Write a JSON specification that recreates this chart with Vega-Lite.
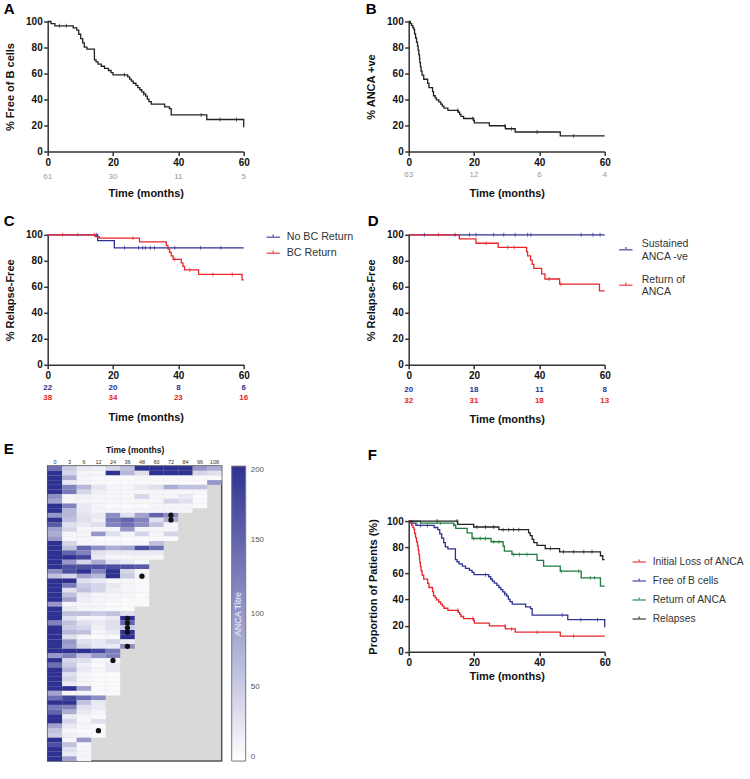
{
"$schema": "https://vega.github.io/schema/vega-lite/v6.json",
"padding": {"left": 2.7, "top": 1.5, "right": 5, "bottom": 5},
"bounds": "flush",
"columns": 2,
"spacing": {"row": 83.3, "column": 165},
"config": {
  "font": "Liberation Sans",
  "view": {"stroke": null},
  "axis": {"domainColor": "#333", "domainWidth": 1.5, "tickColor": "#333", "tickWidth": 1.5, "tickSize": 4, "labelFont": "Liberation Sans", "labelFontSize": 10, "labelFontWeight": "bold", "labelColor": "#111", "labelPadding": 1.5, "labelOverlap": false, "labelFlush": false, "labelBound": false, "titleFont": "Liberation Sans", "titleFontSize": 11, "titleFontWeight": "bold", "titleColor": "#111", "grid": false},
  "legend": {"labelFont": "Liberation Sans", "labelColor": "#333", "padding": 0},
  "title": {"font": "Liberation Sans", "fontSize": 15, "fontWeight": "bold", "color": "#000", "anchor": "start", "frame": "group", "baseline": "alphabetic"}
},
"datasets": {
  "bc": [{"t":0,"s":100},{"t":1,"s":98.4},{"t":2.2,"s":96.7},{"t":7.8,"s":95.1},{"t":8.9,"s":93.4},{"t":9.5,"s":90.2},{"t":10.1,"s":86.9},{"t":10.7,"s":83.6},{"t":11.2,"s":80.3},{"t":12,"s":78.7},{"t":14.3,"s":70.5},{"t":14.8,"s":68.9},{"t":15.4,"s":67.2},{"t":16.4,"s":65.6},{"t":17.4,"s":63.9},{"t":18.6,"s":62.3},{"t":19.4,"s":60.7},{"t":20,"s":59},{"t":24.5,"s":57.4},{"t":25.1,"s":55.7},{"t":25.6,"s":54.1},{"t":26.2,"s":52.5},{"t":27,"s":50.8},{"t":27.6,"s":49.2},{"t":28.2,"s":47.5},{"t":28.8,"s":45.9},{"t":29.4,"s":44.3},{"t":30,"s":42.6},{"t":30.5,"s":40.3},{"t":31,"s":38.4},{"t":31.7,"s":36.5},{"t":35.8,"s":34.4},{"t":37.3,"s":33},{"t":37.8,"s":28.1},{"t":48.7,"s":24.6},{"t":60,"s":18.7}],
  "bcC": [{"t":3.6,"s":96.7},{"t":5.7,"s":96.7},{"t":23.5,"s":59},{"t":29.4,"s":44.3},{"t":47,"s":28.1},{"t":52.7,"s":24.6},{"t":57.8,"s":24.6}],
  "an": [{"t":0,"s":100},{"t":0.5,"s":98.4},{"t":0.9,"s":96.8},{"t":1.3,"s":95.2},{"t":1.6,"s":93.7},{"t":1.8,"s":90.5},{"t":2.1,"s":87.3},{"t":2.4,"s":84.1},{"t":2.7,"s":81},{"t":2.9,"s":77.8},{"t":3.1,"s":74.6},{"t":3.3,"s":71.4},{"t":3.4,"s":68.3},{"t":3.6,"s":65.1},{"t":3.8,"s":61.9},{"t":4.1,"s":58.7},{"t":4.6,"s":55.6},{"t":5.8,"s":52.4},{"t":6.2,"s":49.2},{"t":7.3,"s":46},{"t":7.6,"s":42.9},{"t":8.1,"s":41.3},{"t":8.5,"s":39.7},{"t":9.2,"s":38.1},{"t":9.8,"s":36.5},{"t":10.3,"s":34.9},{"t":10.8,"s":33.3},{"t":12,"s":31.7},{"t":15.2,"s":30.2},{"t":15.6,"s":28.6},{"t":16,"s":27},{"t":16.8,"s":25.4},{"t":19.9,"s":23.8},{"t":20.1,"s":22},{"t":24.7,"s":19.8},{"t":29.6,"s":17.5},{"t":32.6,"s":15},{"t":46.4,"s":12},{"t":60,"s":12}],
  "anC": [{"t":15,"s":31.7},{"t":19.6,"s":25.4},{"t":29.5,"s":19.8},{"t":31.5,"s":17.5},{"t":39.3,"s":15},{"t":50.5,"s":12}],
  "c": [{"g":"No BC Return","t":0,"s":100},{"g":"No BC Return","t":15.3,"s":95.5},{"g":"No BC Return","t":20.4,"s":90},{"g":"No BC Return","t":60,"s":90},
        {"g":"BC Return","t":0,"s":100},{"g":"BC Return","t":14.6,"s":98.6},{"g":"BC Return","t":15.8,"s":97.4},{"g":"BC Return","t":28.1,"s":94.6},{"g":"BC Return","t":36.3,"s":91.9},{"g":"BC Return","t":36.8,"s":89.2},{"g":"BC Return","t":37.3,"s":86.5},{"g":"BC Return","t":37.8,"s":83.8},{"g":"BC Return","t":38.4,"s":81.1},{"g":"BC Return","t":40.9,"s":78.4},{"g":"BC Return","t":41.4,"s":75.7},{"g":"BC Return","t":41.9,"s":73},{"g":"BC Return","t":46.2,"s":69.5},{"g":"BC Return","t":59.5,"s":65.3},{"g":"BC Return","t":60,"s":65.3}],
  "cC": [{"g":"No BC Return","t":15,"s":100},{"g":"No BC Return","t":23.5,"s":90},{"g":"No BC Return","t":27.8,"s":90},{"g":"No BC Return","t":29.1,"s":90},{"g":"No BC Return","t":29.9,"s":90},{"g":"No BC Return","t":31.4,"s":90},{"g":"No BC Return","t":32.7,"s":90},{"g":"No BC Return","t":38.9,"s":90},{"g":"No BC Return","t":46.8,"s":90},{"g":"No BC Return","t":53,"s":90},
         {"g":"BC Return","t":4.6,"s":100},{"g":"BC Return","t":9.2,"s":100},{"g":"BC Return","t":14.3,"s":100},{"g":"BC Return","t":26.1,"s":97.4},{"g":"BC Return","t":38.9,"s":81.1},{"g":"BC Return","t":43.5,"s":73},{"g":"BC Return","t":50.6,"s":69.5},{"g":"BC Return","t":56.5,"s":69.5}],
  "d": [{"g":"Sustained ANCA -ve","t":0,"s":100},{"g":"Sustained ANCA -ve","t":60,"s":100},
        {"g":"Return of ANCA","t":0,"s":100},{"g":"Return of ANCA","t":15.5,"s":96.8},{"g":"Return of ANCA","t":20.6,"s":93.5},{"g":"Return of ANCA","t":27.4,"s":90.3},{"g":"Return of ANCA","t":36.1,"s":87},{"g":"Return of ANCA","t":36.4,"s":83.8},{"g":"Return of ANCA","t":37.3,"s":80.5},{"g":"Return of ANCA","t":37.8,"s":77.3},{"g":"Return of ANCA","t":38.3,"s":74.2},{"g":"Return of ANCA","t":40.7,"s":70},{"g":"Return of ANCA","t":41.7,"s":66},{"g":"Return of ANCA","t":46.2,"s":62},{"g":"Return of ANCA","t":58.4,"s":56.9},{"g":"Return of ANCA","t":60,"s":56.9}],
  "dC": [{"g":"Sustained ANCA -ve","t":4.8,"s":100},{"g":"Sustained ANCA -ve","t":14.2,"s":100},{"g":"Sustained ANCA -ve","t":18.6,"s":100},{"g":"Sustained ANCA -ve","t":20.6,"s":100},{"g":"Sustained ANCA -ve","t":26,"s":100},{"g":"Sustained ANCA -ve","t":29.1,"s":100},{"g":"Sustained ANCA -ve","t":32.6,"s":100},{"g":"Sustained ANCA -ve","t":36.4,"s":100},{"g":"Sustained ANCA -ve","t":37.4,"s":100},{"g":"Sustained ANCA -ve","t":52.8,"s":100},{"g":"Sustained ANCA -ve","t":56.4,"s":100},{"g":"Sustained ANCA -ve","t":58.6,"s":100},
         {"g":"Return of ANCA","t":9.1,"s":100},{"g":"Return of ANCA","t":23.7,"s":93.5},{"g":"Return of ANCA","t":30.3,"s":90.3},{"g":"Return of ANCA","t":32.3,"s":90.3},{"g":"Return of ANCA","t":43,"s":66},{"g":"Return of ANCA","t":46.6,"s":62}],
  "f": [{"g":"Return of ANCA","t":0,"s":100},{"g":"Return of ANCA","t":3.6,"s":98.5},{"g":"Return of ANCA","t":13.8,"s":97},{"g":"Return of ANCA","t":14.4,"s":94.4},{"g":"Return of ANCA","t":17.9,"s":91},{"g":"Return of ANCA","t":19.4,"s":86.7},{"g":"Return of ANCA","t":25.2,"s":84.2},{"g":"Return of ANCA","t":28.9,"s":80.9},{"g":"Return of ANCA","t":29.3,"s":77},{"g":"Return of ANCA","t":31.6,"s":74.5},{"g":"Return of ANCA","t":39.3,"s":69.9},{"g":"Return of ANCA","t":41.3,"s":65.6},{"g":"Return of ANCA","t":46.4,"s":61.7},{"g":"Return of ANCA","t":52.8,"s":56.6},{"g":"Return of ANCA","t":58.7,"s":50.3},{"g":"Return of ANCA","t":60,"s":50.3},
        {"g":"Relapses","t":0,"s":100},{"g":"Relapses","t":15,"s":97.5},{"g":"Relapses","t":19.9,"s":95.5},{"g":"Relapses","t":27.6,"s":93.4},{"g":"Relapses","t":36.7,"s":91},{"g":"Relapses","t":37.2,"s":88.9},{"g":"Relapses","t":37.8,"s":86},{"g":"Relapses","t":38.3,"s":83.5},{"g":"Relapses","t":39.3,"s":81.5},{"g":"Relapses","t":41.8,"s":79},{"g":"Relapses","t":46.2,"s":76.5},{"g":"Relapses","t":58.7,"s":73.5},{"g":"Relapses","t":59.4,"s":70.5},{"g":"Relapses","t":60,"s":70.5}],
  "fC": [{"g":"Return of ANCA","t":2.6,"s":98.5},{"g":"Return of ANCA","t":9.7,"s":98.5},{"g":"Return of ANCA","t":13.8,"s":97},{"g":"Return of ANCA","t":19.9,"s":86.7},{"g":"Return of ANCA","t":21.9,"s":86.7},{"g":"Return of ANCA","t":23.5,"s":86.7},{"g":"Return of ANCA","t":26,"s":84.2},{"g":"Return of ANCA","t":27.6,"s":84.2},{"g":"Return of ANCA","t":32.1,"s":74.5},{"g":"Return of ANCA","t":33.9,"s":74.5},{"g":"Return of ANCA","t":36.2,"s":74.5},{"g":"Return of ANCA","t":46.7,"s":61.7},{"g":"Return of ANCA","t":52,"s":61.7},{"g":"Return of ANCA","t":55.6,"s":56.6},{"g":"Return of ANCA","t":56.9,"s":56.6},
         {"g":"Relapses","t":8.7,"s":100},{"g":"Relapses","t":14.8,"s":100},{"g":"Relapses","t":20.9,"s":95.5},{"g":"Relapses","t":23.5,"s":95.5},{"g":"Relapses","t":26,"s":95.5},{"g":"Relapses","t":28.9,"s":93.4},{"g":"Relapses","t":30.6,"s":93.4},{"g":"Relapses","t":32.1,"s":93.4},{"g":"Relapses","t":33.7,"s":93.4},{"g":"Relapses","t":43.4,"s":79},{"g":"Relapses","t":47.4,"s":76.5},{"g":"Relapses","t":50.5,"s":76.5},{"g":"Relapses","t":53.6,"s":76.5},{"g":"Relapses","t":56.1,"s":76.5}],
  "risk": [{"p":"A","g":"all","t":0,"n":61},{"p":"A","g":"all","t":20,"n":30},{"p":"A","g":"all","t":40,"n":11},{"p":"A","g":"all","t":60,"n":5},
           {"p":"B","g":"all","t":0,"n":63},{"p":"B","g":"all","t":20,"n":12},{"p":"B","g":"all","t":40,"n":6},{"p":"B","g":"all","t":60,"n":4},
           {"p":"C","g":"blue","t":0,"n":22},{"p":"C","g":"blue","t":20,"n":20},{"p":"C","g":"blue","t":40,"n":8},{"p":"C","g":"blue","t":60,"n":6},
           {"p":"C","g":"red","t":0,"n":38},{"p":"C","g":"red","t":20,"n":34},{"p":"C","g":"red","t":40,"n":23},{"p":"C","g":"red","t":60,"n":16},
           {"p":"D","g":"blue","t":0,"n":20},{"p":"D","g":"blue","t":20,"n":18},{"p":"D","g":"blue","t":40,"n":11},{"p":"D","g":"blue","t":60,"n":8},
           {"p":"D","g":"red","t":0,"n":32},{"p":"D","g":"red","t":20,"n":31},{"p":"D","g":"red","t":40,"n":18},{"p":"D","g":"red","t":60,"n":13}],
  "rel": [{"r":10,"c":72},{"r":11,"c":72},{"r":23,"c":48},{"r":32,"c":36},{"r":33,"c":36},{"r":34,"c":36},{"r":35,"c":36},{"r":38,"c":36},{"r":41,"c":24},{"r":56,"c":12}],
  "hm": [
{"r":0,"c":0,"v":140},{"r":0,"c":3,"v":50},{"r":0,"c":6,"v":20},{"r":0,"c":12,"v":15},{"r":0,"c":24,"v":40},{"r":0,"c":36,"v":60},{"r":0,"c":48,"v":200},{"r":0,"c":60,"v":200},{"r":0,"c":72,"v":200},{"r":0,"c":84,"v":200},{"r":0,"c":96,"v":100},{"r":0,"c":108,"v":80},
{"r":1,"c":0,"v":200},{"r":1,"c":3,"v":40},{"r":1,"c":6,"v":10},{"r":1,"c":12,"v":10},{"r":1,"c":24,"v":200},{"r":1,"c":36,"v":70},{"r":1,"c":48,"v":30},{"r":1,"c":60,"v":200},{"r":1,"c":72,"v":200},{"r":1,"c":84,"v":200},{"r":1,"c":96,"v":40},{"r":1,"c":108,"v":30},
{"r":2,"c":0,"v":200},{"r":2,"c":3,"v":80},{"r":2,"c":6,"v":10},{"r":2,"c":12,"v":5},{"r":2,"c":24,"v":5},{"r":2,"c":36,"v":5},{"r":2,"c":48,"v":10},{"r":2,"c":60,"v":5},{"r":2,"c":72,"v":5},{"r":2,"c":84,"v":5},{"r":2,"c":96,"v":5},{"r":2,"c":108,"v":5},
{"r":3,"c":0,"v":200},{"r":3,"c":3,"v":20},{"r":3,"c":6,"v":10},{"r":3,"c":12,"v":5},{"r":3,"c":24,"v":5},{"r":3,"c":36,"v":5},{"r":3,"c":48,"v":5},{"r":3,"c":60,"v":5},{"r":3,"c":72,"v":5},{"r":3,"c":84,"v":5},{"r":3,"c":96,"v":5},{"r":3,"c":108,"v":100},
{"r":4,"c":0,"v":200},{"r":4,"c":3,"v":120},{"r":4,"c":6,"v":70},{"r":4,"c":12,"v":25},{"r":4,"c":24,"v":10},{"r":4,"c":36,"v":10},{"r":4,"c":48,"v":20},{"r":4,"c":60,"v":30},{"r":4,"c":72,"v":80},{"r":4,"c":84,"v":60},{"r":4,"c":96,"v":60},
{"r":5,"c":0,"v":200},{"r":5,"c":3,"v":130},{"r":5,"c":6,"v":40},{"r":5,"c":12,"v":15},{"r":5,"c":24,"v":10},{"r":5,"c":36,"v":10},{"r":5,"c":48,"v":10},{"r":5,"c":60,"v":10},{"r":5,"c":72,"v":10},{"r":5,"c":84,"v":10},{"r":5,"c":96,"v":10},
{"r":6,"c":0,"v":110},{"r":6,"c":3,"v":10},{"r":6,"c":6,"v":15},{"r":6,"c":12,"v":10},{"r":6,"c":24,"v":10},{"r":6,"c":36,"v":10},{"r":6,"c":48,"v":40},{"r":6,"c":60,"v":10},{"r":6,"c":72,"v":10},{"r":6,"c":84,"v":20},{"r":6,"c":96,"v":5},
{"r":7,"c":0,"v":90},{"r":7,"c":3,"v":10},{"r":7,"c":6,"v":10},{"r":7,"c":12,"v":10},{"r":7,"c":24,"v":10},{"r":7,"c":36,"v":10},{"r":7,"c":48,"v":10},{"r":7,"c":60,"v":10},{"r":7,"c":72,"v":40},{"r":7,"c":84,"v":30},{"r":7,"c":96,"v":5},
{"r":8,"c":0,"v":200},{"r":8,"c":3,"v":120},{"r":8,"c":6,"v":20},{"r":8,"c":12,"v":10},{"r":8,"c":24,"v":5},{"r":8,"c":36,"v":5},{"r":8,"c":48,"v":5},{"r":8,"c":60,"v":10},{"r":8,"c":72,"v":10},{"r":8,"c":84,"v":10},{"r":8,"c":96,"v":5},
{"r":9,"c":0,"v":200},{"r":9,"c":3,"v":70},{"r":9,"c":6,"v":20},{"r":9,"c":12,"v":10},{"r":9,"c":24,"v":10},{"r":9,"c":36,"v":10},{"r":9,"c":48,"v":10},{"r":9,"c":60,"v":10},{"r":9,"c":72,"v":10},{"r":9,"c":84,"v":10},
{"r":10,"c":0,"v":100},{"r":10,"c":3,"v":70},{"r":10,"c":6,"v":25},{"r":10,"c":12,"v":20},{"r":10,"c":24,"v":110},{"r":10,"c":36,"v":30},{"r":10,"c":48,"v":90},{"r":10,"c":60,"v":150},{"r":10,"c":72,"v":110},
{"r":11,"c":0,"v":200},{"r":11,"c":3,"v":60},{"r":11,"c":6,"v":30},{"r":11,"c":12,"v":15},{"r":11,"c":24,"v":130},{"r":11,"c":36,"v":150},{"r":11,"c":48,"v":120},{"r":11,"c":60,"v":30},{"r":11,"c":72,"v":80},
{"r":12,"c":0,"v":160},{"r":12,"c":3,"v":30},{"r":12,"c":6,"v":20},{"r":12,"c":12,"v":30},{"r":12,"c":24,"v":120},{"r":12,"c":36,"v":140},{"r":12,"c":48,"v":110},{"r":12,"c":60,"v":60},{"r":12,"c":72,"v":10},
{"r":13,"c":0,"v":90},{"r":13,"c":3,"v":40},{"r":13,"c":6,"v":10},{"r":13,"c":12,"v":10},{"r":13,"c":24,"v":10},{"r":13,"c":36,"v":100},{"r":13,"c":48,"v":10},{"r":13,"c":60,"v":10},{"r":13,"c":72,"v":10},
{"r":14,"c":0,"v":80},{"r":14,"c":3,"v":10},{"r":14,"c":6,"v":10},{"r":14,"c":12,"v":100},{"r":14,"c":24,"v":30},{"r":14,"c":36,"v":10},{"r":14,"c":48,"v":40},{"r":14,"c":60,"v":10},{"r":14,"c":72,"v":40},
{"r":15,"c":0,"v":100},{"r":15,"c":3,"v":10},{"r":15,"c":6,"v":10},{"r":15,"c":12,"v":5},{"r":15,"c":24,"v":5},{"r":15,"c":36,"v":5},{"r":15,"c":48,"v":5},{"r":15,"c":60,"v":5},{"r":15,"c":72,"v":5},
{"r":16,"c":0,"v":200},{"r":16,"c":3,"v":40},{"r":16,"c":6,"v":10},{"r":16,"c":12,"v":10},{"r":16,"c":24,"v":10},{"r":16,"c":36,"v":10},{"r":16,"c":48,"v":10},{"r":16,"c":60,"v":60},
{"r":17,"c":0,"v":200},{"r":17,"c":3,"v":60},{"r":17,"c":6,"v":150},{"r":17,"c":12,"v":110},{"r":17,"c":24,"v":80},{"r":17,"c":36,"v":90},{"r":17,"c":48,"v":170},{"r":17,"c":60,"v":140},
{"r":18,"c":0,"v":200},{"r":18,"c":3,"v":150},{"r":18,"c":6,"v":120},{"r":18,"c":12,"v":30},{"r":18,"c":24,"v":20},{"r":18,"c":36,"v":20},{"r":18,"c":48,"v":20},{"r":18,"c":60,"v":20},
{"r":19,"c":0,"v":200},{"r":19,"c":3,"v":200},{"r":19,"c":6,"v":180},{"r":19,"c":12,"v":20},{"r":19,"c":24,"v":10},{"r":19,"c":36,"v":10},{"r":19,"c":48,"v":10},{"r":19,"c":60,"v":10},
{"r":20,"c":0,"v":200},{"r":20,"c":3,"v":100},{"r":20,"c":6,"v":40},{"r":20,"c":12,"v":80},{"r":20,"c":24,"v":30},{"r":20,"c":36,"v":20},{"r":20,"c":48,"v":10},
{"r":21,"c":0,"v":200},{"r":21,"c":3,"v":170},{"r":21,"c":6,"v":170},{"r":21,"c":12,"v":170},{"r":21,"c":24,"v":170},{"r":21,"c":36,"v":170},{"r":21,"c":48,"v":160},
{"r":22,"c":0,"v":110},{"r":22,"c":3,"v":170},{"r":22,"c":6,"v":200},{"r":22,"c":12,"v":120},{"r":22,"c":24,"v":200},{"r":22,"c":36,"v":40},{"r":22,"c":48,"v":10},
{"r":23,"c":0,"v":60},{"r":23,"c":3,"v":40},{"r":23,"c":6,"v":90},{"r":23,"c":12,"v":70},{"r":23,"c":24,"v":200},{"r":23,"c":36,"v":50},{"r":23,"c":48,"v":10},
{"r":24,"c":0,"v":200},{"r":24,"c":3,"v":200},{"r":24,"c":6,"v":30},{"r":24,"c":12,"v":20},{"r":24,"c":24,"v":10},{"r":24,"c":36,"v":10},{"r":24,"c":48,"v":5},
{"r":25,"c":0,"v":200},{"r":25,"c":3,"v":130},{"r":25,"c":6,"v":50},{"r":25,"c":12,"v":40},{"r":25,"c":24,"v":20},{"r":25,"c":36,"v":10},{"r":25,"c":48,"v":5},
{"r":26,"c":0,"v":200},{"r":26,"c":3,"v":30},{"r":26,"c":6,"v":60},{"r":26,"c":12,"v":40},{"r":26,"c":24,"v":15},{"r":26,"c":36,"v":10},{"r":26,"c":48,"v":5},
{"r":27,"c":0,"v":200},{"r":27,"c":3,"v":60},{"r":27,"c":6,"v":20},{"r":27,"c":12,"v":10},{"r":27,"c":24,"v":10},{"r":27,"c":36,"v":10},{"r":27,"c":48,"v":5},
{"r":28,"c":0,"v":200},{"r":28,"c":3,"v":90},{"r":28,"c":6,"v":15},{"r":28,"c":12,"v":10},{"r":28,"c":24,"v":10},{"r":28,"c":36,"v":5},{"r":28,"c":48,"v":5},
{"r":29,"c":0,"v":100},{"r":29,"c":3,"v":10},{"r":29,"c":6,"v":10},{"r":29,"c":12,"v":10},{"r":29,"c":24,"v":5},{"r":29,"c":36,"v":5},{"r":29,"c":48,"v":5},
{"r":30,"c":0,"v":200},{"r":30,"c":3,"v":20},{"r":30,"c":6,"v":10},{"r":30,"c":12,"v":10},{"r":30,"c":24,"v":5},{"r":30,"c":36,"v":5},
{"r":31,"c":0,"v":200},{"r":31,"c":3,"v":60},{"r":31,"c":6,"v":60},{"r":31,"c":12,"v":50},{"r":31,"c":24,"v":60},{"r":31,"c":36,"v":30},
{"r":32,"c":0,"v":200},{"r":32,"c":3,"v":30},{"r":32,"c":6,"v":10},{"r":32,"c":12,"v":10},{"r":32,"c":24,"v":20},{"r":32,"c":36,"v":200},
{"r":33,"c":0,"v":120},{"r":33,"c":3,"v":60},{"r":33,"c":6,"v":30},{"r":33,"c":12,"v":20},{"r":33,"c":24,"v":30},{"r":33,"c":36,"v":150},
{"r":34,"c":0,"v":200},{"r":34,"c":3,"v":50},{"r":34,"c":6,"v":40},{"r":34,"c":12,"v":15},{"r":34,"c":24,"v":30},{"r":34,"c":36,"v":50},
{"r":35,"c":0,"v":200},{"r":35,"c":3,"v":70},{"r":35,"c":6,"v":60},{"r":35,"c":12,"v":10},{"r":35,"c":24,"v":20},{"r":35,"c":36,"v":200},
{"r":36,"c":0,"v":200},{"r":36,"c":3,"v":30},{"r":36,"c":6,"v":10},{"r":36,"c":12,"v":5},{"r":36,"c":24,"v":5},{"r":36,"c":36,"v":200},
{"r":37,"c":0,"v":200},{"r":37,"c":3,"v":100},{"r":37,"c":6,"v":30},{"r":37,"c":12,"v":20},{"r":37,"c":24,"v":40},{"r":37,"c":36,"v":20},
{"r":38,"c":0,"v":200},{"r":38,"c":3,"v":90},{"r":38,"c":6,"v":40},{"r":38,"c":12,"v":20},{"r":38,"c":24,"v":20},{"r":38,"c":36,"v":110},
{"r":39,"c":0,"v":200},{"r":39,"c":3,"v":200},{"r":39,"c":6,"v":200},{"r":39,"c":12,"v":180},{"r":39,"c":24,"v":130},
{"r":40,"c":0,"v":100},{"r":40,"c":3,"v":120},{"r":40,"c":6,"v":60},{"r":40,"c":12,"v":100},{"r":40,"c":24,"v":120},
{"r":41,"c":0,"v":200},{"r":41,"c":3,"v":40},{"r":41,"c":6,"v":30},{"r":41,"c":12,"v":10},{"r":41,"c":24,"v":10},
{"r":42,"c":0,"v":140},{"r":42,"c":3,"v":50},{"r":42,"c":6,"v":15},{"r":42,"c":12,"v":5},{"r":42,"c":24,"v":20},
{"r":43,"c":0,"v":200},{"r":43,"c":3,"v":70},{"r":43,"c":6,"v":20},{"r":43,"c":12,"v":10},{"r":43,"c":24,"v":20},
{"r":44,"c":0,"v":200},{"r":44,"c":3,"v":30},{"r":44,"c":6,"v":10},{"r":44,"c":12,"v":5},{"r":44,"c":24,"v":5},
{"r":45,"c":0,"v":200},{"r":45,"c":3,"v":40},{"r":45,"c":6,"v":10},{"r":45,"c":12,"v":5},{"r":45,"c":24,"v":5},
{"r":46,"c":0,"v":200},{"r":46,"c":3,"v":20},{"r":46,"c":6,"v":10},{"r":46,"c":12,"v":5},{"r":46,"c":24,"v":5},
{"r":47,"c":0,"v":200},{"r":47,"c":3,"v":200},{"r":47,"c":6,"v":90},{"r":47,"c":12,"v":5},{"r":47,"c":24,"v":5},
{"r":48,"c":0,"v":90},{"r":48,"c":3,"v":10},{"r":48,"c":6,"v":10},{"r":48,"c":12,"v":5},{"r":48,"c":24,"v":5},
{"r":49,"c":0,"v":140},{"r":49,"c":3,"v":180},{"r":49,"c":6,"v":140},{"r":49,"c":12,"v":110},
{"r":50,"c":0,"v":200},{"r":50,"c":3,"v":200},{"r":50,"c":6,"v":60},{"r":50,"c":12,"v":20},
{"r":51,"c":0,"v":130},{"r":51,"c":3,"v":120},{"r":51,"c":6,"v":30},{"r":51,"c":12,"v":20},
{"r":52,"c":0,"v":150},{"r":52,"c":3,"v":80},{"r":52,"c":6,"v":20},{"r":52,"c":12,"v":10},
{"r":53,"c":0,"v":200},{"r":53,"c":3,"v":20},{"r":53,"c":6,"v":10},{"r":53,"c":12,"v":5},
{"r":54,"c":0,"v":200},{"r":54,"c":3,"v":40},{"r":54,"c":6,"v":10},{"r":54,"c":12,"v":30},
{"r":55,"c":0,"v":90},{"r":55,"c":3,"v":20},{"r":55,"c":6,"v":10},{"r":55,"c":12,"v":5},
{"r":56,"c":0,"v":60},{"r":56,"c":3,"v":10},{"r":56,"c":6,"v":5},{"r":56,"c":12,"v":5},
{"r":57,"c":0,"v":50},{"r":57,"c":3,"v":15},{"r":57,"c":6,"v":10},{"r":57,"c":12,"v":5},
{"r":58,"c":0,"v":200},{"r":58,"c":3,"v":10},{"r":58,"c":6,"v":100},
{"r":59,"c":0,"v":170},{"r":59,"c":3,"v":60},{"r":59,"c":6,"v":10},
{"r":60,"c":0,"v":200},{"r":60,"c":3,"v":30},{"r":60,"c":6,"v":10},
{"r":61,"c":0,"v":200},{"r":61,"c":3,"v":20},{"r":61,"c":6,"v":10},
{"r":62,"c":0,"v":200},{"r":62,"c":3,"v":90},{"r":62,"c":6,"v":10}
  ]
},
"concat": [
 {
  "width": 196, "height": 130,
  "title": {"text": "A", "dx": -44, "offset": -0.8},
  "layer": [
   {"data": {"name": "bc"}, "mark": {"type": "line", "interpolate": "step-after", "color": "#222", "strokeWidth": 1.3},
    "encoding": {
     "x": {"field": "t", "type": "quantitative", "scale": {"domain": [0, 60], "nice": false}, "axis": {"values": [0, 20, 40, 60], "tickCount": 10, "title": "Time (months)", "titleY": 42.3, "titleBaseline": "middle"}},
     "y": {"field": "s", "type": "quantitative", "scale": {"domain": [0, 100], "nice": false}, "axis": {"values": [0, 20, 40, 60, 80, 100], "tickCount": 10, "title": "% Free of B cells", "titleX": -37.4, "titleBaseline": "middle"}}}},
   {"data": {"name": "bcC"}, "mark": {"type": "tick", "orient": "vertical", "size": 4, "thickness": 1, "color": "#222"},
    "encoding": {"x": {"field": "t", "type": "quantitative"}, "y": {"field": "s", "type": "quantitative"}}},
   {"data": {"name": "risk"}, "transform": [{"filter": "datum.p == 'A'"}], "mark": {"type": "text", "fontSize": 8, "color": "#999"},
    "encoding": {"x": {"field": "t", "type": "quantitative"}, "y": {"datum": -19.4}, "text": {"field": "n", "type": "quantitative"}}}
  ]
 },
 {
  "width": 196, "height": 130,
  "title": {"text": "B", "dx": -43, "offset": -0.8},
  "layer": [
   {"data": {"name": "an"}, "mark": {"type": "line", "interpolate": "step-after", "color": "#222", "strokeWidth": 1.3},
    "encoding": {
     "x": {"field": "t", "type": "quantitative", "scale": {"domain": [0, 60], "nice": false}, "axis": {"values": [0, 20, 40, 60], "tickCount": 10, "title": "Time (months)", "titleY": 42.3, "titleBaseline": "middle"}},
     "y": {"field": "s", "type": "quantitative", "scale": {"domain": [0, 100], "nice": false}, "axis": {"values": [0, 20, 40, 60, 80, 100], "tickCount": 10, "title": "% ANCA +ve", "titleX": -37.4, "titleBaseline": "middle"}}}},
   {"data": {"name": "anC"}, "mark": {"type": "tick", "orient": "vertical", "size": 4, "thickness": 1, "color": "#222"},
    "encoding": {"x": {"field": "t", "type": "quantitative"}, "y": {"field": "s", "type": "quantitative"}}},
   {"data": {"name": "risk"}, "transform": [{"filter": "datum.p == 'B'"}], "mark": {"type": "text", "fontSize": 8, "color": "#999"},
    "encoding": {"x": {"field": "t", "type": "quantitative"}, "y": {"datum": -18.2}, "text": {"field": "n", "type": "quantitative"}}}
  ]
 },
 {
  "width": 196, "height": 147.7,
  "title": {"text": "C", "dx": -44, "offset": 1},
  "layer": [
   {"data": {"name": "c"}, "mark": {"type": "line", "interpolate": "step-after", "strokeWidth": 1.3},
    "encoding": {
     "x": {"field": "t", "type": "quantitative", "scale": {"domain": [0, 60], "nice": false}, "axis": {"values": [0, 20, 40, 60], "tickCount": 10, "offset": -17.7, "title": "Time (months)", "titleY": 52.7, "titleBaseline": "middle"}},
     "y": {"field": "s", "type": "quantitative", "scale": {"domain": [0, 100], "nice": false, "range": [130, 0]}, "axis": {"values": [0, 20, 40, 60, 80, 100], "tickCount": 10, "title": "% Relapse-Free", "titleX": -36.7, "titleBaseline": "middle"}},
     "color": {"field": "g", "type": "nominal", "title": null, "scale": {"domain": ["No BC Return", "BC Return"], "range": ["#2e3192", "#e8262b"]},
      "legend": {"orient": "none", "legendX": 218, "legendY": -5, "title": null, "symbolType": "M-1,0L1,0M0,0L0,-0.4", "symbolSize": 180, "symbolStrokeWidth": 1.5, "labelFontSize": 10.7, "labelOffset": 6, "rowPadding": 3}}}},
   {"data": {"name": "cC"}, "mark": {"type": "tick", "orient": "vertical", "size": 4, "thickness": 1},
    "encoding": {"x": {"field": "t", "type": "quantitative"}, "y": {"field": "s", "type": "quantitative"}, "color": {"field": "g", "type": "nominal", "title": null}}},
   {"data": {"name": "risk"}, "transform": [{"filter": "datum.p == 'C' && datum.g == 'blue'"}], "mark": {"type": "text", "fontSize": 8, "fontWeight": "bold", "color": "#2e3192"},
    "encoding": {"x": {"field": "t", "type": "quantitative"}, "y": {"datum": -17.7}, "text": {"field": "n", "type": "quantitative"}}},
   {"data": {"name": "risk"}, "transform": [{"filter": "datum.p == 'C' && datum.g == 'red'"}], "mark": {"type": "text", "fontSize": 8, "fontWeight": "bold", "color": "#e8262b"},
    "encoding": {"x": {"field": "t", "type": "quantitative"}, "y": {"datum": -25.9}, "text": {"field": "n", "type": "quantitative"}}}
  ]
 },
 {
  "width": 196, "height": 147.7,
  "title": {"text": "D", "dx": -41, "offset": 1},
  "layer": [
   {"data": {"name": "d"}, "mark": {"type": "line", "interpolate": "step-after", "strokeWidth": 1.3},
    "encoding": {
     "x": {"field": "t", "type": "quantitative", "scale": {"domain": [0, 60], "nice": false}, "axis": {"values": [0, 20, 40, 60], "tickCount": 10, "offset": -17.7, "title": "Time (months)", "titleY": 55, "titleBaseline": "middle"}},
     "y": {"field": "s", "type": "quantitative", "scale": {"domain": [0, 100], "nice": false, "range": [130, 0]}, "axis": {"values": [0, 20, 40, 60, 80, 100], "tickCount": 10, "title": "% Relapse-Free", "titleX": -36.7, "titleBaseline": "middle"}},
     "color": {"field": "g", "type": "nominal", "title": null, "scale": {"domain": ["Sustained ANCA -ve", "Return of ANCA"], "range": ["#2e3192", "#e8262b"]},
      "legend": {"orient": "none", "legendX": 209.6, "legendY": 2, "title": null, "symbolType": "M-1,0.82L1,0.82M0,0.82L0,0.42", "symbolSize": 180, "symbolStrokeWidth": 1.5, "labelFontSize": 10.5, "labelOffset": 8.5, "rowPadding": 9.5,
        "labelExpr": "datum.label == 'Sustained ANCA -ve' ? ['Sustained', 'ANCA -ve'] : ['Return of', 'ANCA']"}}}},
   {"data": {"name": "dC"}, "mark": {"type": "tick", "orient": "vertical", "size": 4, "thickness": 1},
    "encoding": {"x": {"field": "t", "type": "quantitative"}, "y": {"field": "s", "type": "quantitative"}, "color": {"field": "g", "type": "nominal", "title": null}}},
   {"data": {"name": "risk"}, "transform": [{"filter": "datum.p == 'D' && datum.g == 'blue'"}], "mark": {"type": "text", "fontSize": 8, "fontWeight": "bold", "color": "#2e3192"},
    "encoding": {"x": {"field": "t", "type": "quantitative"}, "y": {"datum": -19.2}, "text": {"field": "n", "type": "quantitative"}}},
   {"data": {"name": "risk"}, "transform": [{"filter": "datum.p == 'D' && datum.g == 'red'"}], "mark": {"type": "text", "fontSize": 8, "fontWeight": "bold", "color": "#e8262b"},
    "encoding": {"x": {"field": "t", "type": "quantitative"}, "y": {"datum": -27.5}, "text": {"field": "n", "type": "quantitative"}}}
  ]
 },
 {
  "width": 174, "height": 295,
  "view": {"fill": "#d9d9d9", "stroke": "#555", "strokeWidth": 1.5},
  "title": {"text": "E", "dx": -44, "offset": 0, "dy": 12},
  "layer": [
   {"data": {"name": "hm"}, "mark": {"type": "rect"},
    "encoding": {
     "x": {"field": "c", "type": "ordinal", "scale": {"domain": [0, 3, 6, 12, 24, 36, 48, 60, 72, 84, 96, 108], "paddingInner": 0, "paddingOuter": 0},
       "axis": {"orient": "top", "title": "Time (months)", "labelAngle": 0, "ticks": false, "domain": false, "labelFontSize": 5.5, "labelFontWeight": "normal", "labelColor": "#333", "labelPadding": 2, "titleFontSize": 8.5, "titlePadding": 5}},
     "y": {"field": "r", "type": "ordinal", "scale": {"domain": [0,1,2,3,4,5,6,7,8,9,10,11,12,13,14,15,16,17,18,19,20,21,22,23,24,25,26,27,28,29,30,31,32,33,34,35,36,37,38,39,40,41,42,43,44,45,46,47,48,49,50,51,52,53,54,55,56,57,58,59,60,61,62], "paddingInner": 0, "paddingOuter": 0}, "axis": null},
     "color": {"field": "v", "type": "quantitative", "scale": {"domain": [0, 200], "range": ["#ffffff", "#2e3192"], "interpolate": "rgb", "clamp": true},
      "legend": {"orient": "right", "offset": 12, "direction": "vertical", "gradientLength": 295, "gradientThickness": 14, "values": [0, 50, 100, 150, 200], "title": "ANCA Titre", "titleOrient": "left", "titleAnchor": "middle", "titleAngle": 270, "titlePadding": -12, "titleColor": "#f0f0fa", "titleFontSize": 9, "titleFontWeight": "normal", "labelFontSize": 8, "labelColor": "#555", "gradientStrokeColor": "#777", "gradientStrokeWidth": 1, "labelOffset": 5}}}},
   {"data": {"name": "rel"}, "mark": {"type": "circle", "size": 28, "color": "#111", "opacity": 1},
    "encoding": {"x": {"field": "c", "type": "ordinal"}, "y": {"field": "r", "type": "ordinal"}}}
  ]
 },
 {
  "width": 196, "height": 295,
  "title": {"text": "F", "dx": -41, "offset": 3},
  "layer": [
   {"data": {"name": "an"}, "mark": {"type": "line", "interpolate": "step-after", "strokeWidth": 1.3},
    "encoding": {
     "x": {"field": "t", "type": "quantitative", "scale": {"domain": [0, 60], "nice": false}, "axis": {"values": [0, 20, 40, 60], "tickCount": 10, "offset": -109.3, "title": "Time (months)", "titleY": 25, "titleBaseline": "middle"}},
     "y": {"field": "s", "type": "quantitative", "scale": {"domain": [0, 100], "nice": false, "range": [185.7, 55]}, "axis": {"values": [0, 20, 40, 60, 80, 100], "tickCount": 10, "title": "Proportion of Patients (%)", "titleX": -35, "titleBaseline": "middle"}},
     "color": {"datum": "Initial Loss of ANCA", "title": null, "scale": {"domain": ["Initial Loss of ANCA", "Free of B cells", "Return of ANCA", "Relapses"], "range": ["#e8262b", "#2e3192", "#1e7b3e", "#222222"]},
      "legend": {"orient": "none", "legendX": 223, "legendY": 88.5, "title": null, "symbolType": "M-1,0L1,0M0,0L0,-0.4", "symbolSize": 180, "symbolStrokeWidth": 1.5, "labelFontSize": 10.3, "labelOffset": 6, "rowPadding": 6}}}},
   {"data": {"name": "anC"}, "mark": {"type": "tick", "orient": "vertical", "size": 4, "thickness": 1},
    "encoding": {"x": {"field": "t", "type": "quantitative"}, "y": {"field": "s", "type": "quantitative"}, "color": {"datum": "Initial Loss of ANCA", "title": null}}},
   {"data": {"name": "bc"}, "mark": {"type": "line", "interpolate": "step-after", "strokeWidth": 1.3},
    "encoding": {"x": {"field": "t", "type": "quantitative"}, "y": {"field": "s", "type": "quantitative"}, "color": {"datum": "Free of B cells", "title": null}}},
   {"data": {"name": "bcC"}, "mark": {"type": "tick", "orient": "vertical", "size": 4, "thickness": 1},
    "encoding": {"x": {"field": "t", "type": "quantitative"}, "y": {"field": "s", "type": "quantitative"}, "color": {"datum": "Free of B cells", "title": null}}},
   {"data": {"name": "f"}, "mark": {"type": "line", "interpolate": "step-after", "strokeWidth": 1.3},
    "encoding": {"x": {"field": "t", "type": "quantitative"}, "y": {"field": "s", "type": "quantitative"}, "color": {"field": "g", "type": "nominal", "title": null}}},
   {"data": {"name": "fC"}, "mark": {"type": "tick", "orient": "vertical", "size": 4, "thickness": 1},
    "encoding": {"x": {"field": "t", "type": "quantitative"}, "y": {"field": "s", "type": "quantitative"}, "color": {"field": "g", "type": "nominal", "title": null}}}
  ]
 }
]
}
